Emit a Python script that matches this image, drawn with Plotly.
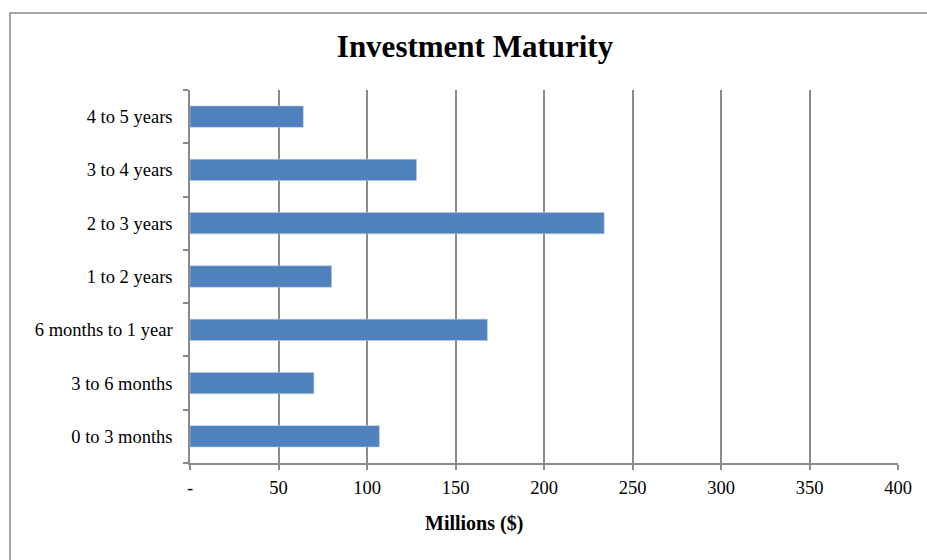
import plotly.graph_objects as go

categories = ["0 to 3 months", "3 to 6 months", "6 months to 1 year", "1 to 2 years",
              "2 to 3 years", "3 to 4 years", "4 to 5 years"]
values = [107, 70, 168, 80, 234, 128, 64]
x_tick_vals = [0, 50, 100, 150, 200, 250, 300, 350, 400]
x_tick_text = ["-", "50", "100", "150", "200", "250", "300", "350", "400"]
x_axis_title = "Millions ($)"
chart_title = "Investment Maturity"

FONT = "Liberation Serif, Times New Roman, serif"
GRID = "#8a8a8a"

fig = go.Figure(go.Bar(
    x=values, y=categories, orientation="h",
    marker=dict(color="#4F81BD", line=dict(color="#B9CDE5", width=0.6)),
    hoverinfo="x+y",
))

fig.update_layout(
    width=927, height=560,
    margin=dict(l=190, r=29, t=90, b=97),
    paper_bgcolor="white", plot_bgcolor="white",
    bargap=0.6,
    showlegend=False,
    font=dict(family=FONT, size=18, color="black"),
    title=dict(text=f"<b>{chart_title}</b>", x=475 / 927, xref="container",
               y=1 - 46 / 560, yref="container", xanchor="center", yanchor="middle",
               font=dict(family=FONT, size=31, color="black")),
)

fig.update_xaxes(
    range=[0, 400], tickvals=x_tick_vals, ticktext=x_tick_text,
    showgrid=True, gridcolor=GRID, gridwidth=1.5,
    showline=True, linecolor=GRID, linewidth=1.5,
    ticks="outside", ticklen=5, tickcolor=GRID, tickwidth=1.5,
    ticklabelstandoff=2,
    tickfont=dict(family=FONT, size=18.5),
    zeroline=False,
)
fig.update_yaxes(
    categoryorder="array", categoryarray=categories,
    showgrid=False, showline=True, linecolor=GRID, linewidth=1.5,
    ticks="outside", ticklen=5, tickcolor=GRID, tickwidth=1.5,
    tickson="boundaries", ticklabelstandoff=12,
    tickfont=dict(family=FONT, size=18.5),
)

# Axis title (centred on the chart, as in the reference)
fig.add_annotation(text=f"<b>{x_axis_title}</b>", xref="paper", yref="paper",
                   x=(474 - 190) / 708, y=-(523 - 463) / 373,
                   xanchor="center", yanchor="middle", showarrow=False,
                   font=dict(family=FONT, size=20, color="black"))

# Chart outer border
fig.add_shape(type="rect", xref="paper", yref="paper",
              x0=(10 - 190) / 708, x1=(940 - 190) / 708,
              y0=-(580 - 463) / 373, y1=1 + (90 - 13) / 373,
              line=dict(color="#898989", width=1.5), fillcolor="rgba(0,0,0,0)", layer="below")

fig.write_html("out.html", config={"displayModeBar": False},
               post_script="document.body.style.margin='0';document.body.style.overflow='hidden';")
